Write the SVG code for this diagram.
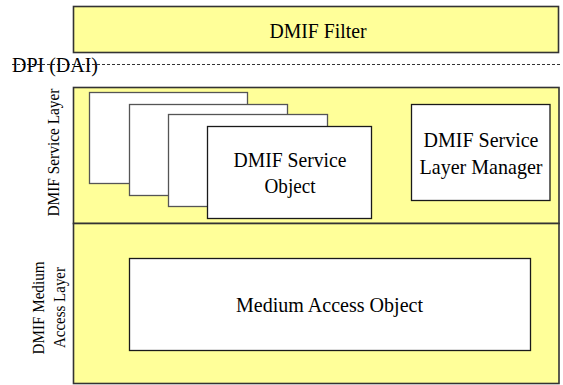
<svg xmlns="http://www.w3.org/2000/svg" width="563" height="385" viewBox="0 0 563 385">
  <style>
    .layer { fill: #ffff99; stroke: #333; stroke-width: 1.6; }
    .obj { fill: #ffffff; stroke: #1a1a1a; stroke-width: 1.3; }
    .obj-back { fill: #ffffff; stroke: #555; stroke-width: 1.3; }
    text { font-family: 'Liberation Serif', Tinos, 'Times New Roman', serif; fill: #000; }
    .big { font-size: 21px; text-anchor: middle; }
    .side { font-size: 16.5px; text-anchor: middle; }
    .iface { stroke: #333; stroke-width: 1; stroke-dasharray: 3 2; fill: none; }
  </style>

  <!-- top filter block -->
  <g id="dmif-filter">
    <rect class="layer" x="73.5" y="6.5" width="485" height="46"/>
    <text class="big" x="318" y="37.5" textLength="97" lengthAdjust="spacingAndGlyphs">DMIF Filter</text>
  </g>

  <!-- DPI interface line -->
  <g id="connectors">
    <line class="iface" x1="12" y1="64.5" x2="562" y2="64.5"/>
  </g>

  <g id="dpi-label">
    <text x="12" y="72" font-size="21" textLength="86" lengthAdjust="spacingAndGlyphs">DPI (DAI)</text>
  </g>

  <!-- service layer band -->
  <g id="service-layer">
    <rect class="layer" x="73.5" y="87.5" width="485.5" height="136"/>
    <text class="side" transform="translate(58.5,152.5) rotate(-90)" textLength="128" lengthAdjust="spacingAndGlyphs">DMIF Service Layer</text>
  </g>

  <!-- medium access layer band -->
  <g id="medium-access-layer">
    <rect class="layer" x="73.5" y="223.5" width="485.5" height="160"/>
    <text class="side" transform="translate(43.5,308) rotate(-90)" textLength="93" lengthAdjust="spacingAndGlyphs">DMIF Medium</text>
    <text class="side" transform="translate(65,307.5) rotate(-90)" textLength="81" lengthAdjust="spacingAndGlyphs">Access Layer</text>
  </g>

  <!-- stacked instances behind the front service object -->
  <g id="service-object-stack">
    <rect class="obj-back" x="89.5" y="92.5" width="158" height="91"/>
    <rect class="obj-back" x="129.5" y="104.5" width="158" height="91"/>
    <rect class="obj-back" x="168.5" y="114.5" width="159" height="92"/>
  </g>

  <g id="service-object">
    <rect class="obj" x="207.5" y="126.5" width="164" height="92"/>
    <text class="big" x="290" y="167" textLength="113" lengthAdjust="spacingAndGlyphs">DMIF Service</text>
    <text class="big" x="290" y="193" textLength="51" lengthAdjust="spacingAndGlyphs">Object</text>
  </g>

  <g id="service-layer-manager">
    <rect class="obj" x="411.5" y="104.5" width="138.5" height="96"/>
    <text class="big" x="481" y="146.5" textLength="115" lengthAdjust="spacingAndGlyphs">DMIF Service</text>
    <text class="big" x="481" y="173.5" textLength="123" lengthAdjust="spacingAndGlyphs">Layer Manager</text>
  </g>

  <g id="medium-access-object">
    <rect class="obj" x="129.5" y="258.5" width="401" height="92"/>
    <text class="big" x="329.5" y="311.5" textLength="187" lengthAdjust="spacingAndGlyphs">Medium Access Object</text>
  </g>
</svg>
